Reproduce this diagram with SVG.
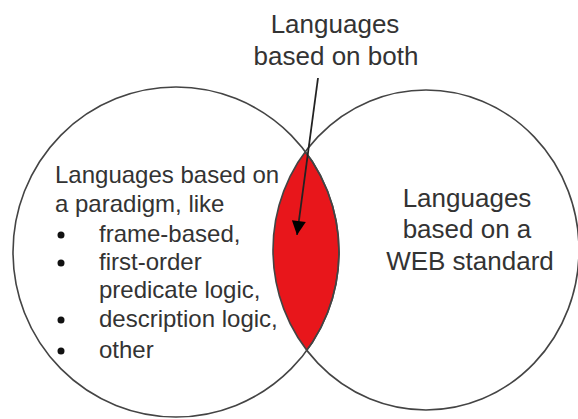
<svg xmlns="http://www.w3.org/2000/svg" width="578" height="419" viewBox="0 0 578 419">
<style>
text{font-family:"Liberation Sans",Arial,sans-serif;fill:#333}
.big{font-size:26px}
.sm{font-size:24px}
.outline{fill:none;stroke:#444;stroke-width:1.6}
.bullet{fill:#111}
</style>
<defs>
<clipPath id="clipR"><ellipse cx="426" cy="250" rx="153" ry="160"/></clipPath>
<marker id="arr" viewBox="0 0 10 10" refX="10" refY="5" markerWidth="20" markerHeight="14" markerUnits="userSpaceOnUse" orient="auto"><path d="M0,0 L10,5 L0,10 z" fill="#000"/></marker>
</defs>
<rect width="578" height="419" fill="#fff"/>
<g id="intersection">
<ellipse cx="176" cy="252" rx="163" ry="165" fill="#e8161b" stroke="#444" stroke-width="1.6" clip-path="url(#clipR)"/>
</g>
<g id="left-set">
<ellipse class="outline" cx="176" cy="252" rx="163" ry="165"/>
<text class="sm" x="55" y="183">Languages based on</text>
<text class="sm" x="55" y="212">a paradigm, like</text>
<circle class="bullet" cx="61" cy="235" r="3.5"/>
<text class="sm" x="99" y="242">frame-based,</text>
<circle class="bullet" cx="61" cy="263" r="3.5"/>
<text class="sm" x="99" y="270">first-order</text>
<text class="sm" x="99" y="298">predicate logic,</text>
<circle class="bullet" cx="61" cy="320" r="3.5"/>
<text class="sm" x="99" y="327">description logic,</text>
<circle class="bullet" cx="61" cy="351" r="3.5"/>
<text class="sm" x="99" y="358">other</text>
</g>
<g id="right-set">
<ellipse class="outline" cx="426" cy="250" rx="153" ry="160"/>
<text class="big" x="467" y="207" text-anchor="middle">Languages</text>
<text class="big" x="467" y="238" text-anchor="middle">based on a</text>
<text class="big" x="470" y="270" text-anchor="middle">WEB standard</text>
</g>
<g id="both-label">
<text class="big" x="335" y="33" text-anchor="middle">Languages</text>
<text class="big" x="336" y="65" text-anchor="middle">based on both</text>
</g>
<g id="connectors">
<line x1="318" y1="78" x2="297" y2="235" stroke="#222" stroke-width="1.8" marker-end="url(#arr)"/>
</g>
</svg>
